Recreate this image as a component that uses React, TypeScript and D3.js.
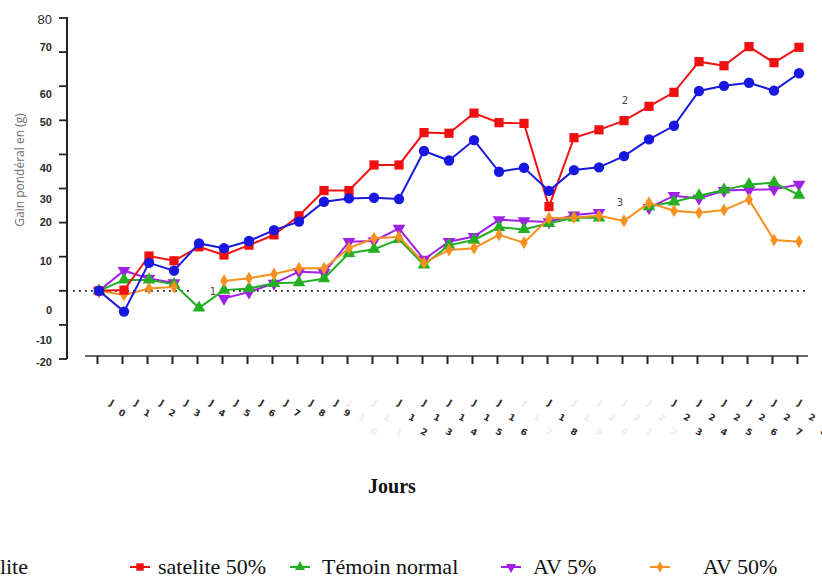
import React from "react";
import * as d3 from "d3";

// Day index (J0..J28)
const days: number[] = d3.range(0, 29);

// Weight gain (g) per group and day; null = no measurement
const satelite: (number | null)[] = [
  0, -6.1, 8.2, 5.9, 13.9, 12.5, 14.6, 17.8, 20.3, 26.1, 27.1, 27.3, 26.9, 41.0, 38.2,
  44.2, 34.9, 36.1, 29.3, 35.4, 36.2, 39.5, 44.4, 48.4, 58.6, 60.1, 61.0, 58.7, 63.8,
];
const satelite50: (number | null)[] = [
  0, 0.2, 10.2, 8.8, 12.9, 10.5, 13.4, 16.4, 22.0, 29.4, 29.4, 36.9, 36.9, 46.4, 46.2,
  52.1, 49.3, 49.1, 24.7, 44.9, 47.2, 49.9, 54.1, 58.2, 67.2, 66.0, 71.6, 66.9, 71.4,
];
const temoin: (number | null)[] = [
  0, 3.2, 3.2, 1.9, -5.0, 0.2, 0.7, 2.2, 2.4, 3.6, 11.0, 12.2, 15.1, 7.6, 13.4,
  14.9, 18.6, 18.0, 19.8, 21.4, 21.4, null, 24.7, 26.1, 27.9, 29.6, 31.2, 31.7, 28.1,
];
const av5: (number | null)[] = [
  0, 5.9, 3.6, 2.3, null, -2.2, -0.4, 2.2, 5.6, 5.3, 14.4, 14.6, 18.3, 9.2, 14.4,
  15.9, 20.8, 20.5, 20.2, 22.2, 22.9, null, 24.3, 27.9, 27.1, 29.4, 29.6, 29.8, 31.2,
];
const av50: (number | null)[] = [
  0, -1.2, 0.7, 1.1, null, 2.9, 3.7, 4.9, 6.6, 6.6, 12.5, 15.4, 15.8, 8.2, 12.0,
  12.5, 16.4, 14.1, 21.3, 21.5, 22.0, 20.5, 25.8, 23.5, 22.9, 23.7, 26.8, 14.9, 14.4,
];

// Y ticks
const yTicks: number[] = [80, 70, 60, 50, 40, 30, 20, 10, 0, -10, -20];
// Vertical nudges of the tick labels (px)
const yLabelNudge: number[] = [1, -5, 8, 2, 14, 11, 0, 4, 19, 15, 3];

// Days whose labels are printed clearly; the rest are faint
const clearDays: number[] = [0, 1, 2, 3, 4, 5, 6, 7, 8, 9, 12, 13, 14, 15, 16, 18, 23, 24, 25, 26, 27, 28];

type Series = {
  name: string;
  values: (number | null)[];
  color: string;
  symbol: d3.SymbolType;
  size: number;
  rotate?: number;
};

const series: Series[] = [
  { name: "AV 5%", values: av5, color: "#a020e8", symbol: d3.symbolTriangle, size: 70, rotate: 180 },
  { name: "Témoin normal", values: temoin, color: "#22b022", symbol: d3.symbolTriangle, size: 70 },
  { name: "AV 50%", values: av50, color: "#f7901e", symbol: d3.symbolDiamond, size: 50 },
  { name: "satelite 50%", values: satelite50, color: "#f01010", symbol: d3.symbolSquare, size: 85 },
  { name: "satelite", values: satelite, color: "#1818e0", symbol: d3.symbolCircle, size: 85 },
];

const legendItems = [
  { name: "satelite 50%", color: "#f01010", symbol: d3.symbolSquare, size: 55, rotate: 0, lx: 140, tx: 158 },
  { name: "Témoin normal", color: "#22b022", symbol: d3.symbolTriangle, size: 45, rotate: 0, lx: 300, tx: 322 },
  { name: "AV 5%", color: "#a020e8", symbol: d3.symbolTriangle, size: 45, rotate: 180, lx: 511, tx: 533 },
  { name: "AV 50%", color: "#f7901e", symbol: d3.symbolDiamond, size: 35, rotate: 0, lx: 660, tx: 703 },
];

export default function App() {
  const W = 822;
  const H = 576;
  const x = d3.scaleLinear().domain([0, 28]).range([99, 799]);
  const y = d3.scaleLinear().domain([-20, 80]).range([359, 18]);

  const line = d3
    .line<number | null>()
    .defined((d) => d !== null)
    .x((_, i) => x(i))
    .y((d) => y(d as number));

  const axisY = 356;

  const dayLabel = (n: number, clear: boolean) => {
    const chars = ("J" + n).split("");
    const single = chars.length === 2;
    const sx = x(n) - 2 + (single ? 15 : 3);
    const step: [number, number] = single ? [10, 10] : [12, 14.5];
    return (
      <g key={"d" + n} fill={clear ? "#2a2a2a" : "#ececec"}>
        {chars.map((c, k) => {
          const cx = sx + k * step[0];
          const cy = 406 + k * step[1];
          return (
            <text
              key={k}
              x={cx}
              y={cy}
              textAnchor="middle"
              fontSize={9}
              fontWeight="bold"
              fontFamily="DejaVu Sans, sans-serif"
              transform={`rotate(28 ${cx} ${cy - 3})`}
            >
              {c}
            </text>
          );
        })}
      </g>
    );
  };

  return (
    <svg
      width={W}
      height={H}
      style={{ position: "absolute", left: 0, top: 0, background: "#fff" }}
      xmlns="http://www.w3.org/2000/svg"
    >
      {/* zero reference line */}
      <g stroke="#222" strokeWidth={1.8} strokeDasharray="1.8 4.2">
        <line x1={x(0) - 26} x2={x(4) - 6} y1={y(0)} y2={y(0)} />
        <line x1={x(5) - 3} x2={x(28) + 10} y1={y(0)} y2={y(0)} />
      </g>

      {/* y axis */}
      <g>
        <line x1={67} x2={67} y1={y(80) - 1} y2={y(-20)} stroke="#222" strokeWidth={2} />
        {yTicks.map((t, i) => (
          <g key={t}>
            <line x1={59} x2={67} y1={y(t)} y2={y(t)} stroke="#222" strokeWidth={1.8} />
            <text
              x={52}
              y={y(t) + yLabelNudge[i]}
              dy="0.35em"
              textAnchor="end"
              fontSize={t === 80 ? 13 : 11}
              fontWeight={t === 80 ? "normal" : "bold"}
              fontFamily="Liberation Sans, Arial, sans-serif"
              fill="#2a2a2a"
            >
              {t}
            </text>
          </g>
        ))}
        <text
          transform="translate(24,170) rotate(-90)"
          textAnchor="middle"
          fontSize={12}
          fontFamily="Open Sans, sans-serif"
          fill="#6e6e6e"
        >
          Gain pondéral en (g)
        </text>
      </g>

      {/* x axis */}
      <g>
        <line x1={85} x2={808} y1={axisY} y2={axisY} stroke="#333" strokeWidth={1.6} />
        {days.map((d) => (
          <line key={d} x1={x(d) - 1.5} x2={x(d) - 1.5} y1={axisY} y2={axisY + 8} stroke="#222" strokeWidth={2} />
        ))}
        {days.map((d) => dayLabel(d, clearDays.includes(d)))}
        <text
          x={392}
          y={493}
          textAnchor="middle"
          fontSize={20}
          fontWeight="bold"
          fontFamily="Liberation Serif, Times New Roman, serif"
          fill="#111"
        >
          Jours
        </text>
      </g>

      {/* series */}
      {series.map((s) => (
        <g key={s.name}>
          <path d={line(s.values) || ""} fill="none" stroke={s.color} strokeWidth={2} />
          {s.values.map((v, i) =>
            v === null ? null : (
              <path
                key={i}
                d={d3.symbol().type(s.symbol).size(s.size)() || ""}
                transform={`translate(${x(i)},${y(v)}) rotate(${s.rotate || 0})`}
                fill={s.color}
              />
            )
          )}
        </g>
      ))}

      {/* curve annotations */}
      <g fontSize={10} fontFamily="DejaVu Sans, sans-serif" fill="#444">
        <text x={213} y={295} textAnchor="middle">1</text>
        <text x={625} y={104} textAnchor="middle">2</text>
        <text x={620} y={206} textAnchor="middle">3</text>
      </g>

      {/* legend */}
      <g fontFamily="Liberation Serif, Times New Roman, serif" fontSize={22} fill="#111">
        <text x={28} y={574} textAnchor="end">satelite</text>
        {legendItems.map((l) => (
          <g key={l.name}>
            <line x1={l.lx - 10} x2={l.lx + 10} y1={567} y2={567} stroke={l.color} strokeWidth={2} />
            <path
              d={d3.symbol().type(l.symbol).size(l.size)() || ""}
              transform={`translate(${l.lx},567) rotate(${l.rotate})`}
              fill={l.color}
            />
            <text x={l.tx} y={574}>{l.name}</text>
          </g>
        ))}
      </g>
    </svg>
  );
}
